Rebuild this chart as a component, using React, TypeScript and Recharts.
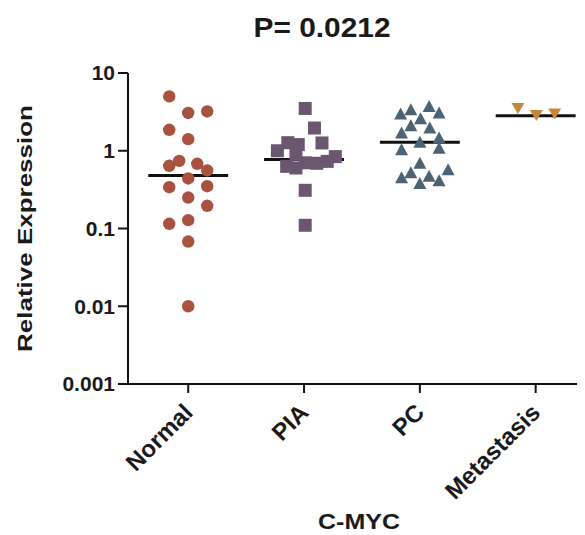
import React from 'react';
import { ScatterChart, Scatter, XAxis, YAxis, ReferenceLine, Label } from 'recharts';

// group names on the x axis
const categories = ['Normal', 'PIA', 'PC', 'Metastasis'];
const yTicks = [0.001, 0.01, 0.1, 1, 10];

// jittered x position (category index +- spread) and relative expression per sample
const normalX = [0.836, 1.0, 1.164, 0.836, 1.0, 0.836, 0.922, 1.078, 1.164, 1.0, 0.836, 1.164, 1.0, 1.164, 0.836, 1.0, 1.0, 1.0];
const normalY = [5.0, 3.06, 3.2, 1.86, 1.41, 0.64, 0.74, 0.68, 0.56, 0.44, 0.34, 0.35, 0.25, 0.196, 0.115, 0.128, 0.068, 0.01];

const piaX = [2.01, 2.09, 2.155, 1.77, 1.86, 1.95, 2.27, 1.85, 2.01, 1.93, 2.11, 2.2, 2.01, 2.01, 1.93];
const piaY = [3.5, 1.96, 1.26, 1.0, 1.27, 1.2, 0.84, 0.63, 0.7, 0.6, 0.69, 0.73, 0.31, 0.11, 0.9];

const pcX = [2.834, 2.922, 3.08, 3.166, 3.006, 2.922, 3.086, 2.842, 3.0, 3.166, 2.842, 3.166, 3.0, 3.244, 2.922, 2.842, 3.08, 3.0, 3.166];
const pcY = [2.96, 3.37, 3.7, 3.06, 2.58, 2.1, 1.96, 1.69, 1.29, 1.46, 1.03, 1.08, 0.69, 0.57, 0.52, 0.45, 0.47, 0.38, 0.41];

const metX = [3.847, 4.006, 4.164];
const metY = [3.5, 2.85, 2.96];

const medians = [0.48, 0.77, 1.29, 2.82];

const toPoints = (xs: number[], ys: number[]) => xs.map((x, i) => ({ x, y: ys[i] }));

const FONT = '"Liberation Sans", Arial, sans-serif';

const Dot = ({ cx, cy }: any) => <circle cx={cx} cy={cy} r={6.2} fill="#A8533F" />;
const Square = ({ cx, cy }: any) => <rect x={cx - 6.5} y={cy - 6.5} width={13} height={13} fill="#6B5670" />;
const TriUp = ({ cx, cy }: any) => (
  <path d={`M${cx},${cy - 6.5} L${cx + 6.5},${cy + 5.5} L${cx - 6.5},${cy + 5.5} Z`} fill="#4D6373" />
);
const TriDown = ({ cx, cy }: any) => (
  <path d={`M${cx - 6.5},${cy - 5.5} L${cx + 6.5},${cy - 5.5} L${cx},${cy + 5.5} Z`} fill="#C5873A" />
);

const XTick = ({ x, y, payload }: any) => (
  <g transform={`translate(${x + 6},${y + 19})`}>
    <text textAnchor="end" transform="rotate(-45)" fontFamily={FONT} fontWeight="bold" fontSize={24} fill="#1a1a1a">
      {categories[payload.value - 1]}
    </text>
  </g>
);

const YTitle = ({ viewBox }: any) => {
  const cy = viewBox.y + viewBox.height / 2;
  return (
    <text x={16} y={cy} transform={`rotate(-90, 16, ${cy})`} textAnchor="middle" dominantBaseline="central"
      fontFamily={FONT} fontWeight="bold" fontSize={21} fill="#1a1a1a" textLength={247} lengthAdjust="spacingAndGlyphs">
      Relative Expression
    </text>
  );
};

const XTitle = () => (
  <text x={351} y={521} textAnchor="middle" fontFamily={FONT} fontWeight="bold" fontSize={22} fill="#1a1a1a"
    textLength={82} lengthAdjust="spacingAndGlyphs">
    C-MYC
  </text>
);

export default function App() {
  const halfWidth = 0.345;
  return (
    <div style={{ position: 'relative', width: 577, height: 527, background: '#fff' }}>
      <svg width={577} height={60} style={{ position: 'absolute', left: 0, top: 0 }}>
        <text x={314} y={29} textAnchor="middle" fontFamily={FONT} fontWeight="bold" fontSize={28} fill="#1a1a1a"
          textLength={137} lengthAdjust="spacingAndGlyphs">
          P= 0.0212
        </text>
      </svg>
      <ScatterChart width={577} height={527} margin={{ top: 65, right: 3, bottom: 0, left: 0 }}>
        <XAxis type="number" dataKey="x" domain={[0.48, 4.4]} ticks={[1, 2, 3, 4]} allowDataOverflow
          axisLine={{ stroke: '#111', strokeWidth: 2 }} tickLine={{ stroke: '#111', strokeWidth: 2 }}
          tickSize={9} height={151} tick={<XTick />} label={<Label content={<XTitle />} />} />
        <YAxis type="number" dataKey="y" scale="log" domain={[0.001, 10]} ticks={yTicks} allowDataOverflow
          width={120} axisLine={{ stroke: '#111', strokeWidth: 2 }} tickLine={{ stroke: '#111', strokeWidth: 2 }}
          tickSize={10} tickMargin={3}
          tick={{ fontFamily: FONT, fontWeight: 'bold', fontSize: 21, fill: '#1a1a1a' }}
          tickFormatter={(v: number) => String(v)} label={<Label content={<YTitle />} />} />
        <Scatter data={toPoints(normalX, normalY)} shape={<Dot />} isAnimationActive={false} />
        <Scatter data={toPoints(piaX, piaY)} shape={<Square />} isAnimationActive={false} />
        <Scatter data={toPoints(pcX, pcY)} shape={<TriUp />} isAnimationActive={false} />
        <Scatter data={toPoints(metX, metY)} shape={<TriDown />} isAnimationActive={false} />
        {medians.map((m, i) => (
          <ReferenceLine key={i} segment={[{ x: i + 1 - halfWidth, y: m }, { x: i + 1 + halfWidth, y: m }]}
            stroke="#111" strokeWidth={3} />
        ))}
      </ScatterChart>
    </div>
  );
}
